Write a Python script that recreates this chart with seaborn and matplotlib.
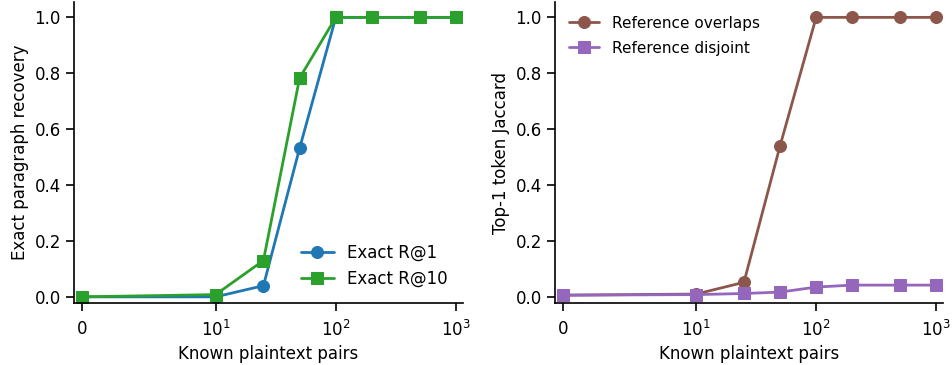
import matplotlib
matplotlib.use("Agg")
import matplotlib.pyplot as plt
import seaborn as sns
import pandas as pd

pairs = [0, 10, 25, 50, 100, 200, 500, 1000]
exact_r1 = [0.0, 0.0, 0.04, 0.532, 1.0, 1.0, 1.0, 1.0]
exact_r10 = [0.0, 0.008, 0.13, 0.783, 1.0, 1.0, 1.0, 1.0]
ref_overlaps = [0.006, 0.01, 0.052, 0.54, 1.0, 1.0, 1.0, 1.0]
ref_disjoint = [0.006, 0.008, 0.012, 0.017, 0.035, 0.042, 0.042, 0.042]

sns.set_style("ticks")
plt.rcParams['font.family'] = ['DejaVu Sans']
plt.rcParams.update({
    "text.color": "black", "axes.labelcolor": "black",
    "xtick.color": "black", "ytick.color": "black",
    "axes.edgecolor": "black", "axes.linewidth": 1.2,
})

fig = plt.figure(figsize=(9.52, 3.65), dpi=100)
ax1 = fig.add_axes([74/952, 62/365, (463-74)/952, (363-62)/365])
ax2 = fig.add_axes([555/952, 62/365, (943-555)/952, (363-62)/365])

def draw(ax, ys, labels, colors, markers):
    for y, lab, c, m in zip(ys, labels, colors, markers):
        df = pd.DataFrame({"x": pairs, "y": y})
        sns.lineplot(data=df, x="x", y="y", ax=ax, color=c, marker=m,
                     markersize=8.6, linewidth=2, label=lab, markeredgecolor=c)
    ax.set_xscale("symlog", linthresh=10)
    ax.set_xlim(-0.6, 1143)
    ax.set_ylim(-0.022, 1.055)
    ax.set_xticks([0, 10, 100, 1000])
    ax.set_yticks([0.0, 0.2, 0.4, 0.6, 0.8, 1.0])
    ax.set_xlabel("Known plaintext pairs", fontsize=12)
    ax.tick_params(labelsize=12, width=1.2, length=6)
    ax.tick_params(axis="x", pad=6)
    sns.despine(ax=ax)

draw(ax1, [exact_r1, exact_r10], ["Exact R@1", "Exact R@10"],
     ["#1f77b4", "#2ca02c"], ["o", "s"])
ax1.set_ylabel("Exact paragraph recovery", fontsize=12)
ax1.legend(loc="lower right", frameon=False, fontsize=12, bbox_to_anchor=(1.0, 0.0))

draw(ax2, [ref_overlaps, ref_disjoint], ["Reference overlaps", "Reference disjoint"],
     ["#8c564b", "#9467bd"], ["o", "s"])
ax2.set_ylabel("Top-1 token Jaccard", fontsize=12)
ax2.legend(loc="upper left", frameon=False, fontsize=11, labelspacing=0.65,
           bbox_to_anchor=(0.0, 1.0))

fig.savefig("out.png", dpi=100)
